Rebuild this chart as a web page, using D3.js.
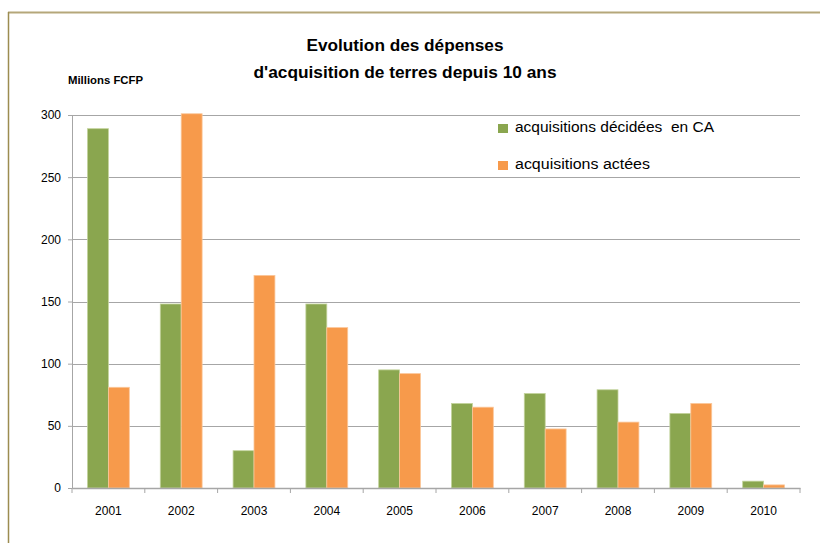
<!DOCTYPE html>
<html>
<head>
<meta charset="utf-8">
<script src="https://cdn.jsdelivr.net/npm/d3@7/dist/d3.min.js"></script>
<style>
  body { margin: 0; background: #fff; }
  svg text { font-family: 'Liberation Sans', Arial, sans-serif; fill: #000; }
</style>
</head>
<body>
<div id="chart"></div>
<script>
var years = ['2001','2002','2003','2004','2005','2006','2007','2008','2009','2010'];
var decidees = [289, 148, 30, 148, 95, 68, 76, 79, 60, 5.5];
var actees = [81, 301, 171, 129, 92, 65, 47.5, 53, 68, 2.5];
var seriesNames = ['acquisitions décidées  en CA', 'acquisitions actées'];
var seriesColors = ['#8aa64f', '#f79a4b'];
var yTicks = [0, 50, 100, 150, 200, 250, 300];

var width = 820, height = 543;
var plotLeft = 72, plotRight = 800, plotTop = 115, plotBottom = 488;

var svg = d3.select('#chart').append('svg')
    .attr('width', width)
    .attr('height', height);

// border of the chart area
svg.append('line').attr('x1', 8).attr('y1', 12.5).attr('x2', width).attr('y2', 12.5)
    .attr('stroke', '#b5a77a').attr('stroke-width', 2);
svg.append('line').attr('x1', 8.5).attr('y1', 12).attr('x2', 8.5).attr('y2', height)
    .attr('stroke', '#9c8c50').attr('stroke-width', 1.5);

var x = d3.scaleBand().domain(years).range([plotLeft, plotRight]);
var xs = d3.scaleBand().domain([0, 1]).range([0, x.bandwidth()]).paddingOuter(0.74).paddingInner(0);
var y = d3.scaleLinear().domain([0, 300]).range([plotBottom, plotTop]);

// gridlines
svg.selectAll('.grid').data(yTicks.filter(function(d){ return d > 0; }))
  .enter().append('line')
    .attr('x1', plotLeft).attr('x2', plotRight)
    .attr('y1', function(d){ return Math.round(y(d)) + 0.5; })
    .attr('y2', function(d){ return Math.round(y(d)) + 0.5; })
    .attr('stroke', '#a6a6a6').attr('stroke-width', 1);

// y axis
var yAxis = svg.append('g').attr('transform', 'translate(' + plotLeft + ',0)')
    .call(d3.axisLeft(y).tickValues(yTicks).tickSize(4).tickPadding(7));
yAxis.select('.domain').attr('stroke', '#a6a6a6');
yAxis.selectAll('.tick line').attr('stroke', '#a6a6a6');
yAxis.selectAll('text').style('font-size', '12px').attr('fill', '#000');

// bars
var data = [decidees, actees];
data.forEach(function(vals, s) {
  svg.selectAll('.bar' + s).data(vals).enter().append('rect')
      .attr('x', function(d, i){ return x(years[i]) + xs(s); })
      .attr('width', xs.bandwidth())
      .attr('y', function(d){ return y(d); })
      .attr('height', function(d){ return y(0) - y(d); })
      .attr('fill', seriesColors[s])
      .attr('stroke', s === 0 ? '#c3d39c' : '#fbc79a')
      .attr('stroke-width', 0.8);
});

// x axis
var xAxis = svg.append('g').attr('transform', 'translate(0,' + plotBottom + ')')
    .call(d3.axisBottom(x).tickSize(0).tickPadding(18));
xAxis.select('.domain').attr('stroke', '#a6a6a6').attr('stroke-width', 1.5);
xAxis.selectAll('text').style('font-size', '12px').attr('fill', '#000');
svg.selectAll('.xtick').data(d3.range(years.length + 1)).enter().append('line')
    .attr('x1', function(i){ return plotLeft + i * x.step(); })
    .attr('x2', function(i){ return plotLeft + i * x.step(); })
    .attr('y1', plotBottom).attr('y2', plotBottom + 5)
    .attr('stroke', '#a6a6a6');

// title
svg.append('text').attr('x', 405).attr('y', 51).attr('text-anchor', 'middle')
    .style('font-size', '17px').style('font-weight', 'bold')
    .attr('textLength', 197).attr('lengthAdjust', 'spacingAndGlyphs')
    .text('Evolution des dépenses');
svg.append('text').attr('x', 405).attr('y', 78).attr('text-anchor', 'middle')
    .style('font-size', '17px').style('font-weight', 'bold')
    .attr('textLength', 303).attr('lengthAdjust', 'spacingAndGlyphs')
    .text("d'acquisition de terres depuis 10 ans");

svg.append('text').attr('x', 68).attr('y', 84)
    .style('font-size', '10px').style('font-weight', 'bold')
    .attr('textLength', 75).attr('lengthAdjust', 'spacingAndGlyphs')
    .text('Millions FCFP');

// legend
var legendW = [199, 135];
seriesNames.forEach(function(name, i) {
  var ly = 132 + i * 37;
  svg.append('rect').attr('x', 498).attr('y', ly - 8).attr('width', 10).attr('height', 9)
      .attr('fill', seriesColors[i]);
  svg.append('text').attr('x', 515).attr('y', ly)
      .style('font-size', '14px')
      .attr('textLength', legendW[i]).attr('lengthAdjust', 'spacingAndGlyphs')
      .style('white-space', 'pre')
      .text(name);
});
</script>
</body>
</html>
